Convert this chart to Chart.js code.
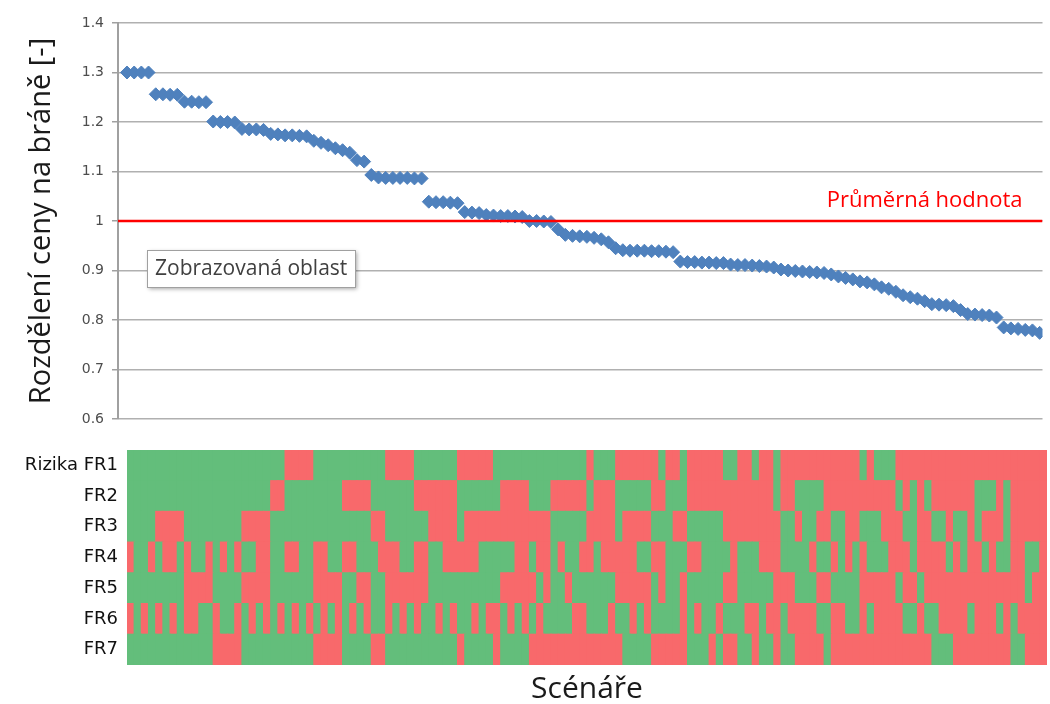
<!DOCTYPE html>
<html>
<head>
<meta charset="utf-8">
<title>Rozdělení ceny na bráně</title>
<script src="https://cdn.jsdelivr.net/npm/chart.js@4.4.1/dist/chart.umd.min.js"></script>
<style>
  body { margin: 0; background: #fff; }
  #wrap { position: relative; width: 1050px; height: 704px; }
  #topBox { position: absolute; left: 0; top: 0; }
  #riskBox { position: absolute; left: 0; top: 440px; }
</style>
</head>
<body>
<div id="wrap">
  <canvas id="topBox" width="1050" height="430"></canvas>
  <canvas id="riskBox" width="1050" height="264"></canvas>
</div>
<script>
// price ratio per scenario, sorted high -> low
const ratios = [
  1.300, 1.300, 1.300, 1.300,
  1.256, 1.256, 1.255, 1.255,
  1.241, 1.241, 1.240, 1.240,
  1.201, 1.200, 1.200, 1.199,
  1.186, 1.185, 1.185, 1.184,
  1.176, 1.175, 1.173, 1.173, 1.172, 1.171,
  1.162, 1.158, 1.153, 1.147, 1.143, 1.138,
  1.123, 1.120,
  1.093, 1.088, 1.087, 1.087, 1.087, 1.087, 1.086, 1.086,
  1.039, 1.038, 1.038, 1.037, 1.036,
  1.018, 1.017, 1.016,
  1.012, 1.011, 1.010, 1.010, 1.009, 1.008,
  1.000, 1.000, 0.999, 0.998,
  0.983,
  0.972, 0.970, 0.969, 0.968, 0.966, 0.963,
  0.957, 0.945,
  0.941, 0.940, 0.940, 0.940, 0.939, 0.939, 0.938,
  0.937,
  0.918, 0.917, 0.917, 0.916, 0.916, 0.915, 0.915,
  0.912, 0.911, 0.911, 0.910, 0.909, 0.908, 0.906,
  0.902, 0.900, 0.899, 0.898, 0.897, 0.896, 0.895,
  0.892, 0.888, 0.885, 0.882,
  0.878, 0.876, 0.872, 0.866, 0.863, 0.857, 0.850, 0.846, 0.843, 0.838,
  0.832, 0.831, 0.830, 0.828,
  0.820, 0.812, 0.811, 0.810, 0.809, 0.805,
  0.785, 0.783, 0.782, 0.780, 0.779, 0.774
];
const avgValue = 1.0;
const yTicks = [0.6, 0.7, 0.8, 0.9, 1.0, 1.1, 1.2, 1.3, 1.4];
const yTickLabels = ['0.6', '0.7', '0.8', '0.9', '1', '1.1', '1.2', '1.3', '1.4'];
const yTitle = 'Rozdělení ceny na bráně [-]';
const xTitle = 'Scénáře';
const avgLabel = 'Průměrná hodnota';
const areaLabel = 'Zobrazovaná oblast';

// risk factor per scenario: G = green, R = red
const riskLabels = ['Rizika FR1', 'FR2', 'FR3', 'FR4', 'FR5', 'FR6', 'FR7'];
const fr1 = 'GGGGGGGGGGGGGGGG' + 'GGGGGGRRRRGGGGGG' + 'GGGGRRRRGGGGGGRR' + 'RRRGGGGGGGGGGGGG' +
            'RGGGRRRRRRGRRGRR' + 'RRRGGRRGRRGRRRRR' + 'RRRRRRGRGGGRRRRR' + 'RRRRRRRRRRRRRRRR';
const fr2 = 'GGGGGGGGGGGGGGGG' + 'GGGGRRGGGGGGGGRR' + 'RRGGGGGGRRRRRRGG' + 'GGGGRRRRGGGRRRRR' +
            'GRRRGGGGGRRGGGRR' + 'RRRRRRRRRRGRRGGG' + 'GRRRRRRRRRRGRGRG' + 'RRRRRRGGGRGRRRRR';
const fr3 = 'GGGGRRRRGGGGGGGG' + 'RRRRGGGGGGGGGGGG' + 'GGRRGGGGGGRRRRGR' + 'RRRRRRRRRRRGGGGG' +
            'RRRRGRRRRGGGRRGG' + 'GGGRRRRRRRRGGRGG' + 'RRGGRRGGGRRRGGRR' + 'GGRGGRGRRRGRRRRR';
const fr4 = 'RGGRGRRGRGGRGRGR' + 'GGRRGGRRGGRRGGRR' + 'GGGRRRGGRRGGRRRR' + 'RGGGGGRRGRRGRGGR' +
            'RGRRRRRGGRRGGGRR' + 'GGGGRGGGRRRGGGGR' + 'GGRGRGRGGGRRRGRR' + 'RRGRGRRGRGGRRGGR';
const fr5 = 'GGGGGGGGRRRRGGGG' + 'RRRRGGGGGGRRRRGG' + 'RRGGRRRRRRGGGGGG' + 'GGGGRRRRRGRGGRGG' +
            'GGGGRRRRRGRGGRGG' + 'GGGRRGGGGGRRRGGG' + 'RRGGGGRRRRRGRRGR' + 'RRRRRRRRRRRRRGRR';
const fr6 = 'RGRGRGRGRRGGRGGR' + 'GRGRGRGRGRGRGRGR' + 'GRGGRGRGRGGRGRGG' + 'RGRRGRGRGRGGGGRR' +
            'GGGRGGRGRGGGGRGR' + 'GGRGGGRRGRRGRRRR' + 'GGRRGGRGRRRRGGRG' + 'GRRRRGRRRGRGRRRR';
const fr7 = 'GGGGGGGGGGGGRRRR' + 'GGGGGGGGGGRRRRGG' + 'GGRRGGGGGGGGGGRG' + 'GGGRGGGGRRRRRRRR' +
            'RRRRRGGGGRRRRRGG' + 'GRGRRGGRGGRGGRRR' + 'RGRRRRRRRRRRRRRR' + 'GGGRRRRRRRRGGRRR';

const BLUE = '#4F81BD', GREEN = '#63BE7B', RED = '#F8696B';

// text + callout box drawn on top of the points
const notes = {
  id: 'notes',
  afterDatasetsDraw(chart) {
    const {ctx, scales: {x, y}} = chart;
    ctx.save();
    ctx.font = '22px "Open Sans"';
    ctx.fillStyle = '#FF0000';
    ctx.textAlign = 'center';
    ctx.textBaseline = 'alphabetic';
    ctx.fillText(avgLabel, x.getPixelForValue(111), y.getPixelForValue(avgValue) - 14);

    ctx.font = '21px "Open Sans"';
    const w = Math.round(ctx.measureText(areaLabel).width + 16), h = 37;
    const bx = Math.round(x.getPixelForValue(2.8)), by = Math.round(y.getPixelForValue(0.941));
    ctx.shadowColor = 'rgba(0,0,0,0.35)';
    ctx.shadowBlur = 4;
    ctx.shadowOffsetX = 2;
    ctx.shadowOffsetY = 2;
    ctx.fillStyle = '#fff';
    ctx.fillRect(bx, by, w, h);
    ctx.shadowColor = 'transparent';
    ctx.strokeStyle = '#A0A0A0';
    ctx.lineWidth = 1;
    ctx.strokeRect(bx + 0.5, by + 0.5, w, h);
    ctx.fillStyle = '#404040';
    ctx.textAlign = 'left';
    ctx.textBaseline = 'middle';
    ctx.fillText(areaLabel, bx + 8, by + h / 2 + 1);
    ctx.restore();
  }
};

new Chart(document.getElementById('topBox'), {
  type: 'scatter',
  data: {
    datasets: [{
      type: 'line',
      data: [{x: -1.25, y: avgValue}, {x: 127.4, y: avgValue}],
      borderColor: '#FF0000',
      borderWidth: 2.5,
      pointRadius: 0,
      order: 0
    }, {
      data: ratios.map((v, i) => ({x: i, y: v})),
      pointStyle: 'rectRot',
      pointRadius: 6.5,
      backgroundColor: BLUE,
      borderColor: BLUE,
      borderWidth: 1,
      order: 1
    }]
  },
  options: {
    responsive: false,
    animation: false,
    layout: {padding: {top: 23, right: 5, bottom: 11, left: 0}},
    plugins: {legend: {display: false}, tooltip: {enabled: false}},
    scales: {
      x: {type: 'linear', min: -1.25, max: 127.4, display: false},
      y: {
        min: 0.6, max: 1.4,
        afterBuildTicks: a => { a.ticks = yTicks.map(v => ({value: v})); },
        afterFit: s => { s.width = 118; s.paddingTop = 0; s.paddingBottom = 0; },
        grid: {color: '#B0B0B0', lineWidth: 1.5, tickLength: 6, tickColor: '#A0A0A0'},
        border: {color: '#A0A0A0', width: 2},
        ticks: {
          callback: (v, i) => yTickLabels[i],
          font: {family: 'DejaVu Sans', size: 14},
          color: '#4D4D4D',
          padding: 8
        },
        title: {
          display: true, text: yTitle,
          font: {family: 'Open Sans', size: 29, lineHeight: 1},
          color: '#1a1a1a',
          padding: {top: 27, bottom: 0}
        }
      }
    }
  },
  plugins: [notes]
});

// heat strip: one stacked dataset per risk factor, FR7 at the bottom
const rows = [fr7, fr6, fr5, fr4, fr3, fr2, fr1];
new Chart(document.getElementById('riskBox'), {
  type: 'bar',
  data: {
    labels: ratios.map((_, i) => String(i + 1)),
    datasets: rows.map(row => ({
      data: Array.from(row, () => 1),
      backgroundColor: Array.from(row, c => c === 'R' ? RED : GREEN),
      borderWidth: 0,
      barPercentage: 1,
      categoryPercentage: 1,
      inflateAmount: 0.6
    }))
  },
  options: {
    responsive: false,
    animation: false,
    layout: {padding: {top: 10, right: 3, bottom: 0, left: 0}},
    plugins: {legend: {display: false}, tooltip: {enabled: false}},
    scales: {
      x: {
        stacked: true,
        grid: {display: false, drawTicks: false},
        border: {display: false},
        ticks: {display: false},
        title: {
          display: true, text: xTitle,
          font: {family: 'Open Sans', size: 30, lineHeight: 1},
          color: '#1a1a1a',
          padding: {top: 0, bottom: 0}
        },
        afterFit: s => { s.height = 39; s.paddingLeft = 0; s.paddingRight = 0; }
      },
      y: {
        stacked: true,
        min: 0, max: 7,
        afterBuildTicks: a => { a.ticks = riskLabels.map((_, k) => ({value: k + 0.5})); },
        afterFit: s => { s.width = 127; s.paddingTop = 0; s.paddingBottom = 0; },
        grid: {display: false, drawTicks: false},
        border: {display: false},
        ticks: {
          callback: v => riskLabels[6 - Math.floor(v)],
          font: {family: 'DejaVu Sans', size: 18},
          color: '#111111',
          padding: 9
        }
      }
    }
  }
});
</script>
</body>
</html>
